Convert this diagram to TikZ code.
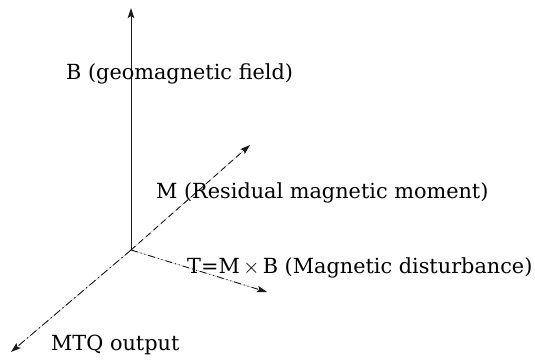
\documentclass[tikz,border=0pt]{standalone}
\usepackage{fontspec}
\setmainfont{DejaVu Serif}
\usetikzlibrary{arrows.meta}

\begin{document}
\begin{tikzpicture}[>={Stealth[length=10pt,width=6.5pt,inset=2pt]}, x=1pt, y=-1pt,
  lbl/.style={anchor=base west, inner sep=0pt, font=\fontsize{20.8}{24}\selectfont},
  vec/.style={->, line width=0.9pt, draw=black!90, fill=black!90}]
  \useasboundingbox (0,0) rectangle (535,359);
  % origin and arrow tips
  \coordinate (o) at (131,250);
  \coordinate (btip) at (131,8);
  \coordinate (mtip) at (250,145);
  \coordinate (ttip) at (267,292);
  \coordinate (qtip) at (11,352);
  % vectors
  \draw[vec] (o) -- (btip);
  \draw[vec, dash pattern=on 6pt off 4pt] (o) -- (mtip);
  \draw[vec, dash pattern=on 7pt off 3pt on 1pt off 3pt on 1pt off 3pt] (o) -- (ttip);
  \draw[vec, dash pattern=on 8pt off 3pt on 1.5pt off 3pt] (o) -- (qtip);
  % labels
  \node[lbl] (bl) at (66,79) {B (geomagnetic field)};
  \node[lbl] (ml) at (156,198) {M (Residual magnetic moment)};
  \node[lbl] (tl) at (187,273) {T=M\,$\times$\,B (Magnetic disturbance)};
  \node[lbl] (ql) at (51,350) {MTQ output};
\end{tikzpicture}
\end{document}
